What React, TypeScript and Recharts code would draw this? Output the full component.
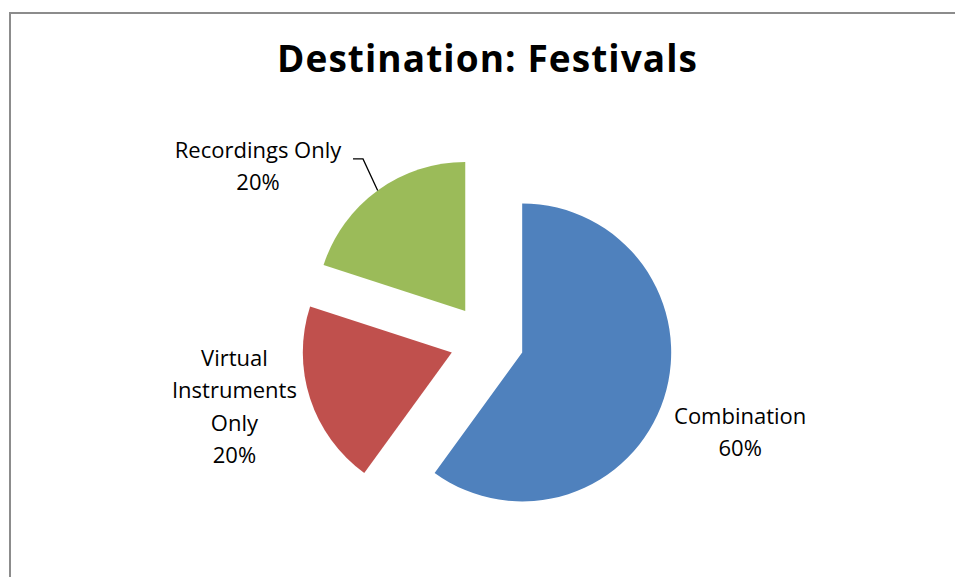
import React from 'react';
import { PieChart, Pie, Cell } from 'recharts';

// data
const categories = ['Combination', 'Virtual Instruments Only', 'Recordings Only'];
const shares = [60, 20, 20];
const labelText = [['Combination'], ['Virtual', 'Instruments', 'Only'], ['Recordings Only']];
const colors = ['#4F81BD', '#C0504D', '#9BBB59'];

const data = categories.map((name, i) => ({ name, value: shares[i] }));
const total = shares.reduce((a, b) => a + b, 0);

const W = 955;
const H = 577;
const CX = 487;
const CY = 341;
const R = 149;
const EXPLODE = 37;
const FONT = '"Open Sans", Lato, sans-serif';
const RAD = Math.PI / 180;

// where each data label sits, polar around its (exploded) slice centre
const labelPlace = [
    { angle: -20, dist: 232 },
    { angle: -166, dist: 224 },
    { angle: 145, dist: 253 },
];

const midAngles = shares.map((v, i) => {
    const before = shares.slice(0, i).reduce((a, b) => a + b, 0);
    return 90 - (360 * (before + v / 2)) / total;
});

const makeLabel = (slice: number) => (props: any) => {
    const { index, cx, cy, percent, outerRadius, midAngle } = props;
    if (index !== slice) return null;
    const { angle, dist } = labelPlace[slice];
    const x = cx + dist * Math.cos(angle * RAD);
    const y = cy - dist * Math.sin(angle * RAD);
    const lines = [...labelText[slice], `${Math.round(percent * 100)}%`];
    const lh = 32.5;
    const first = y - ((lines.length - 1) / 2) * lh + 8;
    let leader = null;
    if (slice === 2) {
        const ex = cx + outerRadius * Math.cos(midAngle * RAD);
        const ey = cy - outerRadius * Math.sin(midAngle * RAD);
        leader = (
            <polyline
                points={`${x + 95},${y - 7} ${x + 105},${y - 7} ${ex},${ey}`}
                fill="none"
                stroke="#000"
                strokeWidth={1.3}
            />
        );
    }
    return (
        <g>
            {leader}
            <text x={x} textAnchor="middle" fontFamily={FONT} fontSize={22} fill="#000">
                {lines.map((l, k) => (
                    <tspan key={k} x={x} y={first + k * lh}>
                        {l}
                    </tspan>
                ))}
            </text>
        </g>
    );
};

export default function App() {
    return (
        <div style={{ position: 'absolute', left: 0, top: 0, width: W, height: H, overflow: 'hidden', background: '#fff' }}>
            <svg width={W} height={H} style={{ position: 'absolute', left: 0, top: 0 }}>
                <polyline points={`10,${H + 5} 10,13 ${W + 5},13`} fill="none" stroke="#8c8c8c" strokeWidth={2} />
                <text
                    x={487}
                    y={72}
                    textAnchor="middle"
                    fontFamily={FONT}
                    fontWeight="bold"
                    fontSize={37}
                    textLength={420}
                    lengthAdjust="spacing"
                    fill="#000"
                >
                    Destination: Festivals
                </text>
            </svg>
            <div style={{ position: 'absolute', left: 0, top: 0 }}>
                <PieChart width={W} height={H} margin={{ top: 0, right: 0, bottom: 0, left: 0 }}>
                    {shares.map((_, i) => {
                        const m = midAngles[i];
                        const cx = CX + EXPLODE * Math.cos(m * RAD);
                        const cy = CY - EXPLODE * Math.sin(m * RAD);
                        return (
                            <Pie
                                key={categories[i]}
                                data={data}
                                dataKey="value"
                                nameKey="name"
                                cx={cx}
                                cy={cy}
                                outerRadius={R}
                                startAngle={90}
                                endAngle={-270}
                                stroke="none"
                                label={makeLabel(i)}
                                labelLine={false}
                                isAnimationActive={false}
                            >
                                {data.map((d, j) => (
                                    <Cell key={d.name} fill={j === i ? colors[j] : 'transparent'} stroke="none" />
                                ))}
                            </Pie>
                        );
                    })}
                </PieChart>
            </div>
        </div>
    );
}
